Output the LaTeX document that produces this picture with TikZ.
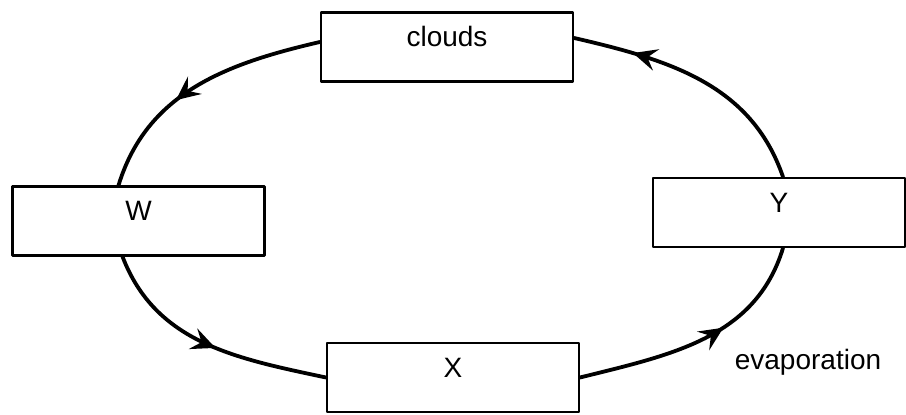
\documentclass[tikz,border=0pt]{standalone}
\usepackage{fontspec}
\setmainfont{Liberation Sans}
\usetikzlibrary{arrows.meta,decorations.markings}
\begin{document}
\begin{tikzpicture}[x=0.5pt,y=0.5pt,line join=round,line cap=round,font=\fontsize{14}{16}\selectfont,
	box/.style={draw,line width=1.1pt,minimum width=126pt,minimum height=34.5pt,inner sep=0pt,text height=10pt,text depth=10pt},
	flow/.style={line width=1.9pt,postaction={decorate},decoration={markings,mark=at position #1 with {\arrow{Stealth[length=12pt,width=11pt,inset=4.5pt]}}}}]
		\useasboundingbox (0,0) rectangle (906,415);
		\node[box] (clouds) at (447,368) {clouds};
		\node[box] (W) at (138.5,194) {W};
		\node[box] (X) at (453,37.5) {X};
		\node[box] (Y) at (779,202.5) {Y};
		\node[anchor=base] (evap) at (808,45) {evaporation};
		\draw[flow=0.6] ([yshift=2.5pt]clouds.west) to[out=193,in=73] ([xshift=-10pt]W.north);
		\draw[flow=0.54] ([xshift=-8pt]W.south) to[out=-69,in=168] (X.west);
		\draw[flow=0.6] (X.east) to[out=14,in=253] ([xshift=2pt]Y.south);
		\draw[flow=0.77] ([xshift=2pt]Y.north) to[out=109,in=-13] ([yshift=4.5pt]clouds.east);
\end{tikzpicture}
\end{document}
